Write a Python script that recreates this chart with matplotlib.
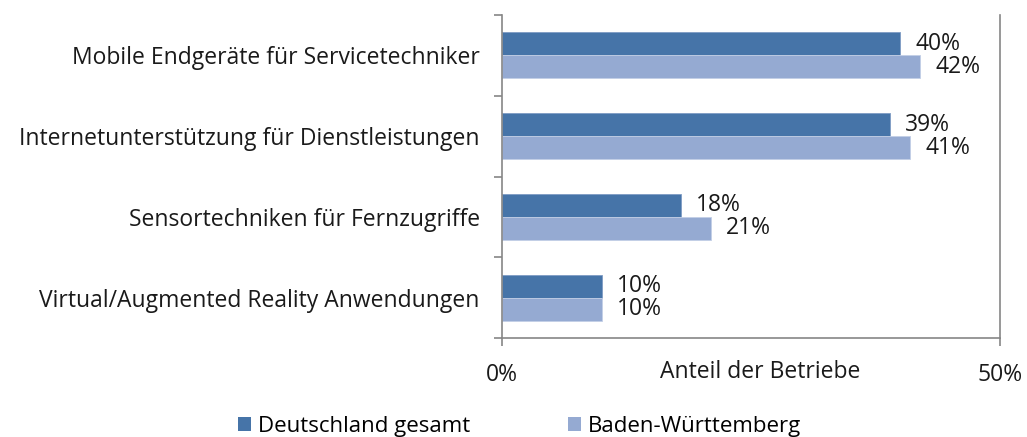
import numpy as np
import matplotlib
matplotlib.use("Agg")
import matplotlib.pyplot as plt
from matplotlib.patches import Patch

categories = [
    "Mobile Endgeräte für Servicetechniker",
    "Internetunterstützung für Dienstleistungen",
    "Sensortechniken für Fernzugriffe",
    "Virtual/Augmented Reality Anwendungen",
]
deutschland = [40, 39, 18, 10]
bawue = [42, 41, 21, 10]
series_names = ["Deutschland gesamt", "Baden-Württemberg"]

dark = "#4674A8"
light = "#95AAD2"
axis_grey = "#868686"
text_col = "#1a1a1a"
fs = 16.5

plt.rcParams["font.family"] = ["Open Sans", "DejaVu Sans"]

fig = plt.figure(figsize=(10.27, 4.37), dpi=100)
ax = fig.add_axes([0.4888, 0.2265, 0.4849, 0.7392])

y = np.arange(len(categories))
h = 0.285
ax.barh(y - h / 2, deutschland, height=h, color=dark, edgecolor="#7f9cc4", linewidth=0.6)
ax.barh(y + h / 2, bawue, height=h, color=light, edgecolor="#c3cfe6", linewidth=0.6)

for yi, v in zip(y, deutschland):
    ax.text(v + 1.5, yi - h / 2, f"{v}%", va="center", ha="left", fontsize=fs, color=text_col)
for yi, v in zip(y, bawue):
    ax.text(v + 1.5, yi + h / 2, f"{v}%", va="center", ha="left", fontsize=fs, color=text_col)

ax.set_xlim(0, 50)
ax.set_ylim(len(categories) - 0.5, -0.5)
ax.set_xticks([0, 50])
ax.set_xticklabels(["0%", "50%"])
ax.set_yticks(y)
ax.set_yticklabels(categories)
ax.set_yticks(np.arange(-0.5, len(categories), 1), minor=True)

ax.tick_params(axis="y", which="major", length=0, pad=16, labelsize=fs, labelcolor=text_col)
ax.tick_params(axis="y", which="minor", length=6, width=1.2, color=axis_grey, direction="out")
ax.tick_params(axis="x", length=6, width=1.2, color=axis_grey, direction="out",
               pad=12, labelsize=fs, labelcolor=text_col)

ax.spines["top"].set_visible(False)
for side in ["left", "bottom", "right"]:
    ax.spines[side].set_color(axis_grey)
    ax.spines[side].set_linewidth(1.2)

ax.set_xlabel("Anteil der Betriebe", fontsize=fs, color=text_col)
ax.xaxis.set_label_coords(0.518, -0.105)
ax.xaxis.label.set_va("center")

handles = [Patch(facecolor=dark), Patch(facecolor=light)]
fig.legend(handles, series_names, loc="lower center", bbox_to_anchor=(0.506, -0.045), ncol=2,
           frameon=False, fontsize=16, handlelength=0.6, handleheight=0.6,
           handletextpad=0.3, columnspacing=4.4)

fig.savefig("out.png", dpi=100)
